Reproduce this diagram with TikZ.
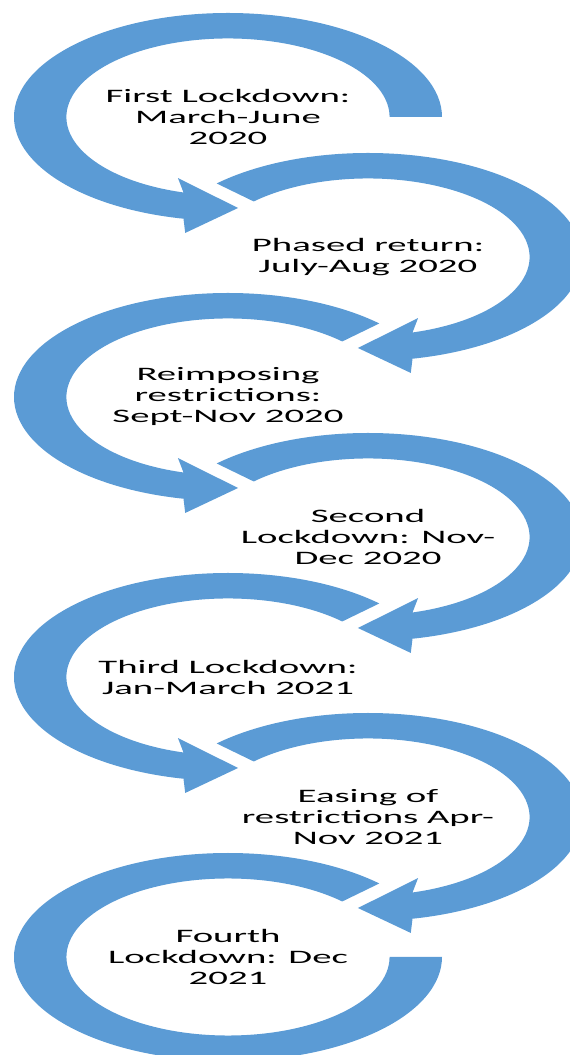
\documentclass[tikz,border=0pt]{standalone}
\usepackage{fontspec}
\setmainfont{Carlito}
\definecolor{ringblue}{HTML}{5B9BD5}
\tikzset{
  ring/.style={fill=ringblue, draw=none},
  phase/.style={align=center, font=\fontsize{19}{21}\selectfont, xscale=2.04, inner sep=0pt},
}
% ring arrow: centre, mirror (1 or -1), start angle
\newcommand{\ringarrow}[3]{%
  \fill[ring, shift={#1}, xscale=#2*214, yscale=104]
    (#3:1) arc[start angle=#3, end angle=258, radius=1]
    -- (-0.20,-1.115) -- (0.047,-0.875) -- (-0.234,-0.587)
    -- (254:0.755) arc[start angle=254, end angle=#3, radius=0.755] -- cycle;}
\begin{document}
\begin{tikzpicture}[x=1pt, y=1pt]
\useasboundingbox (0,0) rectangle (570,1055);
\clip (0,0) rectangle (570,1055);
\ringarrow{(228,938)}{1}{0}
\ringarrow{(368,798)}{-1}{45}
\ringarrow{(228,658)}{1}{45}
\ringarrow{(368,518)}{-1}{45}
\ringarrow{(228,378)}{1}{45}
\ringarrow{(368,238)}{-1}{45}
\fill[ring, shift={(228,98)}, xscale=214, yscale=104]
  (45:1) arc[start angle=45, end angle=360, radius=1]
  -- (0:0.755) arc[start angle=360, end angle=45, radius=0.755] -- cycle;
\node[phase] (phase1) at (228,938) {First Lockdown:\\March-June\\2020};
\node[phase] (phase2) at (368,798) {Phased return:\\July-Aug 2020};
\node[phase] (phase3) at (228,658) {Reimposing\\restrictions:\\Sept-Nov 2020};
\node[phase] (phase4) at (368,518) {Second\\Lockdown: Nov-\\Dec 2020};
\node[phase] (phase5) at (228,378) {Third Lockdown:\\Jan-March 2021};
\node[phase] (phase6) at (368,238) {Easing of\\restrictions Apr-\\Nov 2021};
\node[phase] (phase7) at (228,98) {Fourth\\Lockdown: Dec\\2021};
\end{tikzpicture}
\end{document}
